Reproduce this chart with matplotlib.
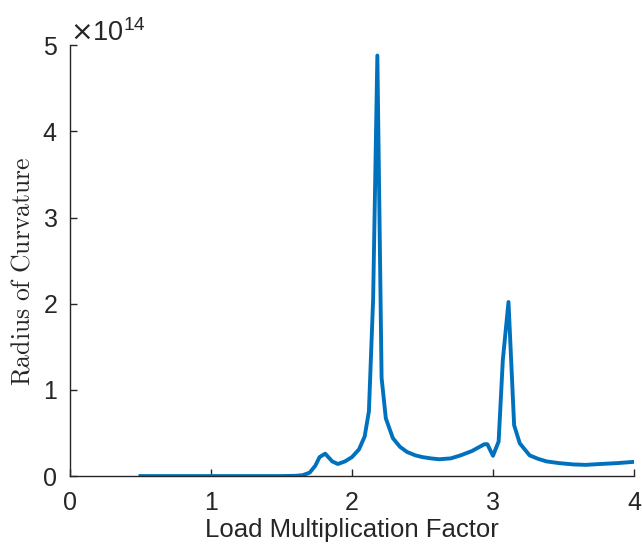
import matplotlib
matplotlib.use("Agg")
import matplotlib.pyplot as plt
from matplotlib.ticker import ScalarFormatter

load_factor = [0.5, 1.0, 1.5, 1.6, 1.65, 1.7, 1.74, 1.77, 1.81, 1.86, 1.90, 1.95, 2.00,
               2.05, 2.09, 2.12, 2.15, 2.18, 2.21, 2.24, 2.29, 2.34, 2.39, 2.45, 2.50,
               2.56, 2.62, 2.70, 2.77, 2.85, 2.94, 2.96, 3.00, 3.04, 3.07, 3.11, 3.15,
               3.19, 3.26, 3.32, 3.38, 3.47, 3.57, 3.66, 3.76, 3.88, 4.0]
radius_e14 = [0, 0, 0, 0.003, 0.01, 0.04, 0.12, 0.22, 0.26, 0.17, 0.14, 0.17, 0.22,
              0.31, 0.46, 0.75, 2.05, 4.88, 1.14, 0.67, 0.44, 0.34, 0.28, 0.24, 0.22,
              0.205, 0.195, 0.205, 0.24, 0.29, 0.37, 0.37, 0.235, 0.40, 1.35, 2.02, 0.59,
              0.38, 0.24, 0.20, 0.17, 0.15, 0.135, 0.13, 0.14, 0.15, 0.165]
radius = [v * 1e14 for v in radius_e14]

plt.rcParams['font.family'] = ['Liberation Sans', 'DejaVu Sans']

fig = plt.figure(figsize=(6.42, 5.51), dpi=100)
ax = fig.add_axes([0.109, 0.136, 0.8785, 0.782])
ax.plot(load_factor, radius, color='#0072BD', lw=2.8, solid_joinstyle='round')

ax.set_xlim(0, 4)
ax.set_ylim(0, 5e14)
ax.set_xticks([0, 1, 2, 3, 4])
ax.set_yticks([0, 1e14, 2e14, 3e14, 4e14, 5e14])
fmt = ScalarFormatter(useMathText=True)
fmt.set_powerlimits((0, 0))
ax.yaxis.set_major_formatter(fmt)

for s in ['top', 'right']:
    ax.spines[s].set_visible(False)
for s in ['left', 'bottom']:
    ax.spines[s].set_color('#262626')
    ax.spines[s].set_linewidth(1.0)
ax.tick_params(direction='in', length=5, width=1.0, colors='#262626',
               labelsize=18)
ax.tick_params(axis='x', pad=11)
ax.tick_params(axis='y', pad=9)
ax.yaxis.get_offset_text().set_fontsize(19.5)
ax.yaxis.get_offset_text().set_color('#262626')

ax.set_xlabel('Load Multiplication Factor', fontsize=18.5, color='#262626', labelpad=2)
ax.set_ylabel(r'$\mathrm{Radius\ of\ Curvature}$', fontsize=18.5, color='#262626',
              math_fontfamily='cm')
ax.yaxis.set_label_coords(-0.063, 0.475)

fig.savefig('out.png', dpi=100)
